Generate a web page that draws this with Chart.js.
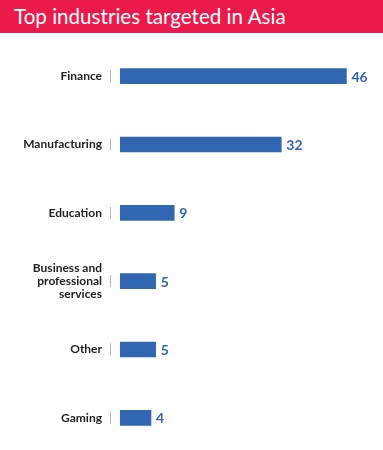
<!DOCTYPE html>
<html>
<head>
<meta charset="utf-8">
<script src="https://cdn.jsdelivr.net/npm/chart.js@4/dist/chart.umd.min.js"></script>
<style>
  html, body { margin: 0; padding: 0; background: #fff; overflow: hidden; }
  body { width: 383px; height: 450px; position: relative; }
  #header {
    position: absolute; left: 0; top: 0; width: 383px; height: 33px;
    background: #ec1a4b; color: #fff;
    font-family: Lato, sans-serif; font-size: 20.6px; line-height: 33px;
    padding-left: 14px; box-sizing: border-box;
  }
  #chart { position: absolute; left: 0; top: 33px; }
</style>
</head>
<body>
<div id="header">Top industries targeted in Asia</div>
<canvas id="chart" width="383" height="420"></canvas>
<script>
const industries = [
  "Finance",
  "Manufacturing",
  "Education",
  ["Business and", "professional", "services"],
  "Other",
  "Gaming",
];
const attacks = [46, 32, 9, 5, 5, 4];
// bars in the original don't start at zero, they have a small stub
const barBase = -2.66;

const barColor = "#3066b2";

const tickMarks = {
  id: "tickMarks",
  afterDraw(chart) {
    const { ctx } = chart;
    const yScale = chart.scales.y;
    ctx.save();
    ctx.strokeStyle = "#b5b5b5";
    ctx.lineWidth = 1;
    yScale.ticks.forEach((tick, i) => {
      const y = yScale.getPixelForTick(i);
      ctx.beginPath();
      ctx.moveTo(110.5, y - 6);
      ctx.lineTo(110.5, y + 6);
      ctx.stroke();
    });
    ctx.restore();
  },
};

const valueLabels = {
  id: "valueLabels",
  afterDatasetsDraw(chart) {
    const { ctx } = chart;
    const meta = chart.getDatasetMeta(0);
    ctx.save();
    ctx.fillStyle = barColor;
    ctx.font = "bold 14px Lato, sans-serif";
    ctx.textAlign = "left";
    ctx.textBaseline = "middle";
    meta.data.forEach((bar, i) => {
      ctx.fillText(String(attacks[i]), bar.x + 5, bar.y + 1);
    });
    ctx.restore();
  },
};

new Chart(document.getElementById("chart"), {
  type: "bar",
  data: {
    labels: industries,
    datasets: [
      {
        data: attacks,
        base: barBase,
        backgroundColor: barColor,
        barThickness: 15,
        borderWidth: 0,
      },
    ],
  },
  options: {
    indexAxis: "y",
    responsive: false,
    animation: false,
    layout: { padding: { top: 9, bottom: 1, left: 0, right: 18 } },
    plugins: {
      legend: { display: false },
      tooltip: { enabled: false },
    },
    scales: {
      x: {
        display: false,
        min: barBase,
        max: 50,
      },
      y: {
        afterFit(scale) {
          scale.width = 120;
          scale.paddingTop = 0;
          scale.paddingBottom = 0;
        },
        grid: { display: false, drawTicks: false },
        border: { display: false },
        ticks: {
          padding: 18,
          color: "#222",
          font: { family: "Lato, sans-serif", size: 12, weight: "bold", lineHeight: 1.05 },
        },
      },
    },
  },
  plugins: [tickMarks, valueLabels],
});
</script>
</body>
</html>
